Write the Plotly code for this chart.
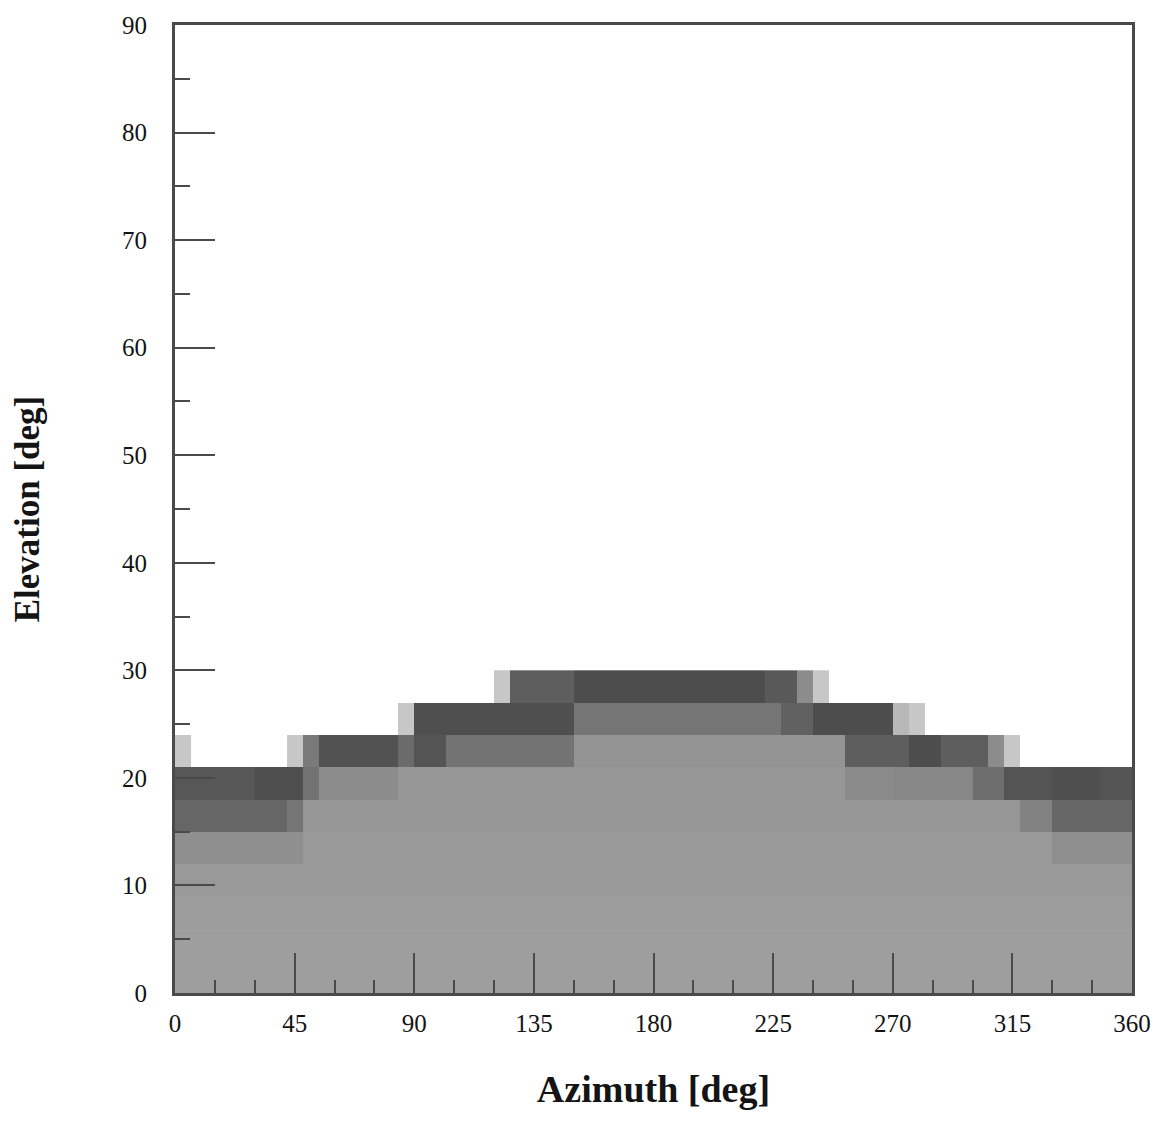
import plotly.graph_objects as go

# Sky-mask shading: azimuth bins of 6 deg, elevation bins of 3 deg.
# Each row lists the shading density (0 = clear sky, 1 = black) for the
# 60 azimuth cells 0-6, 6-12, ..., 354-360 deg.
azimuth_edges = list(range(0, 361, 6))
elevation_edges = [0, 3, 6, 9, 12, 15, 18, 21, 24, 27, 30]

elev_00_03 = [0.38, 0.38, 0.38, 0.38, 0.38, 0.38, 0.38, 0.38, 0.38, 0.38,
              0.38, 0.38, 0.38, 0.38, 0.38, 0.38, 0.38, 0.38, 0.38, 0.38,
              0.38, 0.38, 0.38, 0.38, 0.38, 0.38, 0.38, 0.38, 0.38, 0.38,
              0.38, 0.38, 0.38, 0.38, 0.38, 0.38, 0.38, 0.38, 0.38, 0.38,
              0.38, 0.38, 0.38, 0.38, 0.38, 0.38, 0.38, 0.38, 0.38, 0.38,
              0.38, 0.38, 0.38, 0.38, 0.38, 0.38, 0.38, 0.38, 0.38, 0.38]
elev_03_06 = [0.38, 0.38, 0.38, 0.38, 0.38, 0.38, 0.38, 0.38, 0.38, 0.38,
              0.38, 0.38, 0.38, 0.38, 0.38, 0.38, 0.38, 0.38, 0.38, 0.38,
              0.38, 0.38, 0.38, 0.38, 0.38, 0.38, 0.38, 0.38, 0.38, 0.38,
              0.38, 0.38, 0.38, 0.38, 0.38, 0.38, 0.38, 0.38, 0.38, 0.38,
              0.38, 0.38, 0.38, 0.38, 0.38, 0.38, 0.38, 0.38, 0.38, 0.38,
              0.38, 0.38, 0.38, 0.38, 0.38, 0.38, 0.38, 0.38, 0.38, 0.38]
elev_06_09 = [0.39, 0.39, 0.39, 0.39, 0.39, 0.39, 0.39, 0.39, 0.39, 0.39,
              0.39, 0.39, 0.39, 0.39, 0.39, 0.39, 0.39, 0.39, 0.39, 0.39,
              0.39, 0.39, 0.39, 0.39, 0.39, 0.39, 0.39, 0.39, 0.39, 0.39,
              0.39, 0.39, 0.39, 0.39, 0.39, 0.39, 0.39, 0.39, 0.39, 0.39,
              0.39, 0.39, 0.39, 0.39, 0.39, 0.39, 0.39, 0.39, 0.39, 0.39,
              0.39, 0.39, 0.39, 0.39, 0.39, 0.39, 0.39, 0.39, 0.39, 0.39]
elev_09_12 = [0.40, 0.40, 0.40, 0.40, 0.40, 0.40, 0.40, 0.40, 0.40, 0.40,
              0.40, 0.40, 0.40, 0.40, 0.40, 0.40, 0.40, 0.40, 0.40, 0.40,
              0.40, 0.40, 0.40, 0.40, 0.40, 0.40, 0.40, 0.40, 0.40, 0.40,
              0.40, 0.40, 0.40, 0.40, 0.40, 0.40, 0.40, 0.40, 0.40, 0.40,
              0.40, 0.40, 0.40, 0.40, 0.40, 0.40, 0.40, 0.40, 0.40, 0.40,
              0.40, 0.40, 0.40, 0.40, 0.40, 0.40, 0.40, 0.40, 0.40, 0.40]
elev_12_15 = [0.44, 0.44, 0.44, 0.44, 0.44, 0.44, 0.44, 0.44, 0.40, 0.40,
              0.40, 0.40, 0.40, 0.40, 0.40, 0.40, 0.40, 0.40, 0.40, 0.40,
              0.40, 0.40, 0.40, 0.40, 0.40, 0.40, 0.40, 0.40, 0.40, 0.40,
              0.40, 0.40, 0.40, 0.40, 0.40, 0.40, 0.40, 0.40, 0.40, 0.40,
              0.40, 0.40, 0.40, 0.40, 0.40, 0.40, 0.40, 0.40, 0.40, 0.40,
              0.40, 0.40, 0.40, 0.40, 0.40, 0.44, 0.44, 0.44, 0.44, 0.44]
elev_15_18 = [0.60, 0.60, 0.60, 0.60, 0.60, 0.60, 0.60, 0.54, 0.41, 0.41,
              0.41, 0.41, 0.41, 0.41, 0.41, 0.41, 0.41, 0.41, 0.41, 0.41,
              0.41, 0.41, 0.41, 0.41, 0.41, 0.41, 0.41, 0.41, 0.41, 0.41,
              0.41, 0.41, 0.41, 0.41, 0.41, 0.41, 0.41, 0.41, 0.41, 0.41,
              0.41, 0.41, 0.41, 0.41, 0.41, 0.41, 0.41, 0.41, 0.41, 0.41,
              0.41, 0.41, 0.41, 0.49, 0.49, 0.60, 0.60, 0.60, 0.60, 0.60]
elev_18_21 = [0.66, 0.66, 0.66, 0.66, 0.66, 0.69, 0.69, 0.69, 0.55, 0.45,
              0.45, 0.45, 0.45, 0.45, 0.41, 0.41, 0.41, 0.41, 0.41, 0.41,
              0.41, 0.41, 0.41, 0.41, 0.41, 0.41, 0.41, 0.41, 0.41, 0.41,
              0.41, 0.41, 0.41, 0.41, 0.41, 0.41, 0.41, 0.41, 0.41, 0.41,
              0.41, 0.41, 0.46, 0.46, 0.46, 0.47, 0.47, 0.47, 0.47, 0.47,
              0.57, 0.57, 0.67, 0.67, 0.67, 0.69, 0.69, 0.69, 0.67, 0.67]
elev_21_24 = [0.22, 0.00, 0.00, 0.00, 0.00, 0.00, 0.00, 0.22, 0.52, 0.68,
              0.68, 0.68, 0.68, 0.68, 0.58, 0.67, 0.67, 0.55, 0.55, 0.55,
              0.55, 0.55, 0.55, 0.55, 0.55, 0.42, 0.42, 0.42, 0.42, 0.42,
              0.42, 0.42, 0.42, 0.42, 0.42, 0.42, 0.42, 0.42, 0.42, 0.42,
              0.42, 0.42, 0.63, 0.63, 0.63, 0.63, 0.70, 0.70, 0.63, 0.63,
              0.63, 0.45, 0.22, 0.00, 0.00, 0.00, 0.00, 0.00, 0.00, 0.00]
elev_24_27 = [0.00, 0.00, 0.00, 0.00, 0.00, 0.00, 0.00, 0.00, 0.00, 0.00,
              0.00, 0.00, 0.00, 0.00, 0.22, 0.69, 0.69, 0.69, 0.69, 0.69,
              0.69, 0.69, 0.69, 0.69, 0.69, 0.54, 0.54, 0.54, 0.54, 0.54,
              0.54, 0.54, 0.54, 0.54, 0.54, 0.54, 0.54, 0.54, 0.62, 0.62,
              0.70, 0.70, 0.70, 0.70, 0.70, 0.28, 0.22, 0.00, 0.00, 0.00,
              0.00, 0.00, 0.00, 0.00, 0.00, 0.00, 0.00, 0.00, 0.00, 0.00]
elev_27_30 = [0.00, 0.00, 0.00, 0.00, 0.00, 0.00, 0.00, 0.00, 0.00, 0.00,
              0.00, 0.00, 0.00, 0.00, 0.00, 0.00, 0.00, 0.00, 0.00, 0.00,
              0.22, 0.63, 0.63, 0.63, 0.63, 0.70, 0.70, 0.70, 0.70, 0.70,
              0.70, 0.70, 0.70, 0.70, 0.70, 0.70, 0.70, 0.65, 0.65, 0.45,
              0.22, 0.00, 0.00, 0.00, 0.00, 0.00, 0.00, 0.00, 0.00, 0.00,
              0.00, 0.00, 0.00, 0.00, 0.00, 0.00, 0.00, 0.00, 0.00, 0.00]

shading = [elev_00_03, elev_03_06, elev_06_09, elev_09_12, elev_12_15,
           elev_15_18, elev_18_21, elev_21_24, elev_24_27, elev_27_30]

azimuth_ticks = [0, 45, 90, 135, 180, 225, 270, 315, 360]
elevation_ticks = [0, 10, 20, 30, 40, 50, 60, 70, 80, 90]

SERIF = "Liberation Serif, Times New Roman, serif"
INK = "#141414"
LINE = "#4a4a4a"

fig = go.Figure(
    go.Heatmap(
        x=azimuth_edges,
        y=elevation_edges,
        z=shading,
        zmin=0,
        zmax=1,
        colorscale=[[0.0, "#ffffff"], [1.0, "#000000"]],
        showscale=False,
        hoverinfo="skip",
    )
)

fig.update_layout(
    width=1163,
    height=1137,
    margin=dict(l=175, r=26, t=22, b=144),
    paper_bgcolor="white",
    plot_bgcolor="white",
    font=dict(family=SERIF, color=INK, size=25),
    showlegend=False,
)

fig.update_xaxes(
    range=[0, 360],
    tickmode="array",
    tickvals=azimuth_ticks,
    ticktext=[str(v) for v in azimuth_ticks],
    ticks="inside",
    ticklen=40,
    tickwidth=2,
    tickcolor=LINE,
    minor=dict(dtick=15, tick0=0, ticks="inside", ticklen=13, tickwidth=2, tickcolor=LINE),
    showline=True,
    linewidth=3,
    linecolor=LINE,
    mirror=True,
    showgrid=False,
    zeroline=False,
    ticklabelstandoff=6,
    tickfont=dict(family=SERIF, size=25, color=INK),
    title=dict(text="<b>Azimuth [deg]</b>", font=dict(family=SERIF, size=38, color=INK), standoff=40),
)

fig.update_yaxes(
    range=[0, 90],
    tickmode="array",
    tickvals=elevation_ticks,
    ticktext=[str(v) for v in elevation_ticks],
    ticks="inside",
    ticklen=40,
    tickwidth=2,
    tickcolor=LINE,
    minor=dict(dtick=5, tick0=0, ticks="inside", ticklen=15, tickwidth=2, tickcolor=LINE),
    showline=True,
    linewidth=3,
    linecolor=LINE,
    mirror=True,
    showgrid=False,
    zeroline=False,
    ticklabelstandoff=20,
    tickfont=dict(family=SERIF, size=25, color=INK),
    title=dict(text="<b>Elevation [deg]</b>", font=dict(family=SERIF, size=35, color=INK), standoff=72),
)

fig.write_html("out.html")
